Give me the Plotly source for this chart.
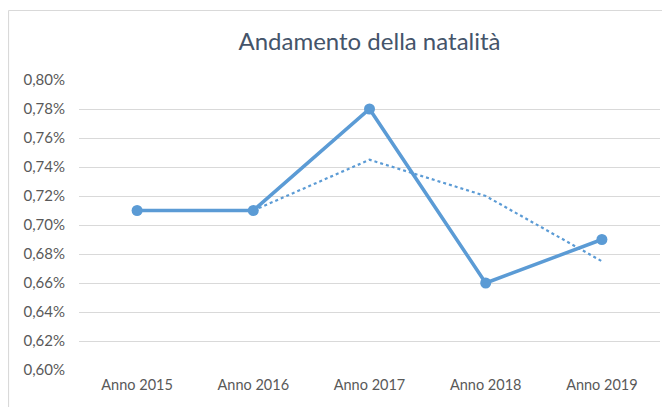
import plotly.graph_objects as go

# Data
years = ["Anno 2015", "Anno 2016", "Anno 2017", "Anno 2018", "Anno 2019"]
birth_rate = [0.0071, 0.0071, 0.0078, 0.0066, 0.0069]
trend_years = ["Anno 2016", "Anno 2017", "Anno 2018", "Anno 2019"]
trend_values = [0.0071, 0.00745, 0.0072, 0.00675]

BLUE = "#5B9BD5"
TEXT = "#595959"

fig = go.Figure()

fig.add_trace(
    go.Scatter(
        x=years,
        y=birth_rate,
        mode="lines+markers",
        line=dict(color=BLUE, width=3.5),
        marker=dict(color=BLUE, size=11),
        showlegend=False,
    )
)

fig.add_trace(
    go.Scatter(
        x=trend_years,
        y=trend_values,
        mode="lines",
        line=dict(color=BLUE, width=2.2, dash="dot"),
        showlegend=False,
    )
)

# chart border (light gray, cropped on the right and bottom)
x0 = (0.5 - 71) / 581
y0 = (362 - 2.5) / 290
fig.add_shape(type="line", xref="paper", yref="paper", x0=x0, x1=x0, y0=y0, y1=-0.2,
              line=dict(color="#D9D9D9", width=1.2))
fig.add_shape(type="line", xref="paper", yref="paper", x0=x0, x1=1.05, y0=y0, y1=y0,
              line=dict(color="#D9D9D9", width=1.2))

# page body has an 8px margin, so the figure is a bit smaller than the window
fig.update_layout(
    width=662,
    height=399,
    margin=dict(l=71, r=10, t=72, b=37),
    paper_bgcolor="white",
    plot_bgcolor="white",
    separators=",.",
    font=dict(family="Lato, Open Sans, sans-serif", size=14.5, color=TEXT),
    title=dict(
        text="Andamento della natalità",
        x=0.5,
        xref="paper",
        y=(399 - 34) / 399,
        yanchor="middle",
        font=dict(size=24, color="#44546A"),
    ),
    xaxis=dict(
        showgrid=False,
        showline=False,
        ticks="",
        range=[-0.5, 4.5],
        ticklabelstandoff=4,
        tickfont=dict(size=14.5, color=TEXT),
    ),
    yaxis=dict(
        range=[0.006, 0.008],
        dtick=0.0002,
        tickformat=".2%",
        showgrid=True,
        gridcolor="#D9D9D9",
        gridwidth=1,
        zeroline=False,
        showline=False,
        ticks="",
        ticklabelstandoff=13,
        tickfont=dict(size=15, color=TEXT),
    ),
)

fig.write_html("out.html")
